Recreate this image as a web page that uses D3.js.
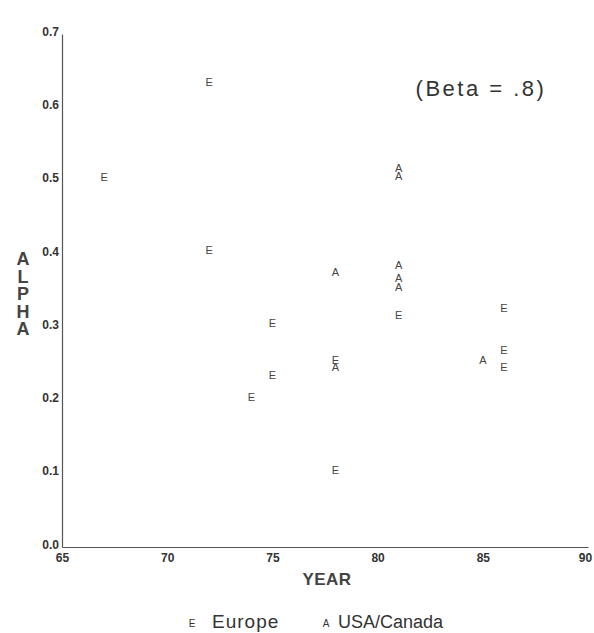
<!DOCTYPE html>
<html>
<head>
<meta charset="utf-8">
<script src="https://cdn.jsdelivr.net/npm/d3@7"></script>
<style>
  body { margin: 0; background: #fff; }
  svg { font-family: "Liberation Sans", Arial, sans-serif; }
</style>
</head>
<body>
<div id="chart"></div>
<script>
   var svgWidth = 594;
   var svgHeight = 633;

   // data
   var europeYear  = [72, 67, 72, 75, 81, 86, 78, 86, 86, 75, 74, 78];
   var europeAlpha = [0.634, 0.505, 0.405, 0.306, 0.317, 0.326, 0.255, 0.269, 0.246, 0.235, 0.204, 0.105];
   var usaYear  = [81, 81, 78, 81, 81, 81, 78, 85];
   var usaAlpha = [0.517, 0.506, 0.375, 0.385, 0.367, 0.355, 0.245, 0.255];

   var xTicks = [65, 70, 75, 80, 85, 90];
   var yTicks = [0, 0.1, 0.2, 0.3, 0.4, 0.5, 0.6, 0.7];

   var svg = d3.select("#chart")
       .append("svg")
       .attr("width", svgWidth)
       .attr("height", svgHeight);

   var x = d3.scaleLinear().domain([65, 90]).range([62, 588]);
   var y = d3.scaleLinear().domain([0, 0.7]).range([547, 34]);

   var axisColor = "#555";

   // axes
   var xAxis = svg.append("g")
       .attr("transform", "translate(0," + y(0) + ")")
       .call(d3.axisBottom(x).tickValues(xTicks).tickSize(0).tickPadding(6));
   var yAxis = svg.append("g")
       .attr("transform", "translate(" + x(65) + ",0)")
       .call(d3.axisLeft(y).tickValues(yTicks).tickSize(0).tickPadding(3).tickFormat(d3.format(".1f")));

   [xAxis, yAxis].forEach(function(g) {
       g.select(".domain").attr("stroke", axisColor).attr("stroke-width", 1.2);
       g.selectAll("text")
           .attr("fill", "#333")
           .style("font-size", "12px")
           .style("font-weight", "bold");
   });
   yAxis.selectAll("text").attr("dy", "0.1em");
   // keep the last year label inside the page
   xAxis.selectAll(".tick text").filter(d => d === 90).attr("dx", "-3");

   // points drawn as letters
   function plotLetters(xs, ys, letter) {
       svg.append("g").selectAll("text")
           .data(xs.map(function(d, i) { return { year: d, alpha: ys[i] }; }))
           .enter()
           .append("text")
           .attr("x", d => x(d.year))
           .attr("y", d => y(d.alpha))
           .attr("dy", "0.36em")
           .style("text-anchor", "middle")
           .style("font-size", "11px")
           .attr("fill", "#444")
           .text(letter);
   }
   plotLetters(europeYear, europeAlpha, "E");
   plotLetters(usaYear, usaAlpha, "A");

   // annotation
   svg.append("text")
       .attr("x", 481)
       .attr("y", 96)
       .style("text-anchor", "middle")
       .style("font-size", "22px")
       .style("letter-spacing", "2.5px")
       .attr("fill", "#333")
       .text("(Beta = .8)");

   // y label, stacked letters
   svg.append("g").selectAll("text")
       .data("ALPHA".split(""))
       .enter()
       .append("text")
       .attr("x", 23)
       .attr("y", (d, i) => 265 + i * 17.5)
       .style("text-anchor", "middle")
       .style("font-size", "18px")
       .style("font-weight", "bold")
       .attr("fill", "#444")
       .text(d => d);

   // x label
   svg.append("text")
       .attr("x", 327)
       .attr("y", 585)
       .style("text-anchor", "middle")
       .style("font-size", "17px")
       .style("font-weight", "bold")
       .style("letter-spacing", "0.5px")
       .attr("fill", "#444")
       .text("YEAR");

   // legend
   var legend = svg.append("g").attr("fill", "#333");
   legend.append("text").attr("x", 192).attr("y", 627).style("font-size", "10px").style("text-anchor", "middle").text("E");
   legend.append("text").attr("x", 212).attr("y", 628).style("font-size", "19px").style("letter-spacing", "1px").text("Europe");
   legend.append("text").attr("x", 326).attr("y", 627).style("font-size", "10px").style("text-anchor", "middle").text("A");
   legend.append("text").attr("x", 338).attr("y", 628).style("font-size", "18px").text("USA/Canada");
</script>
</body>
</html>
